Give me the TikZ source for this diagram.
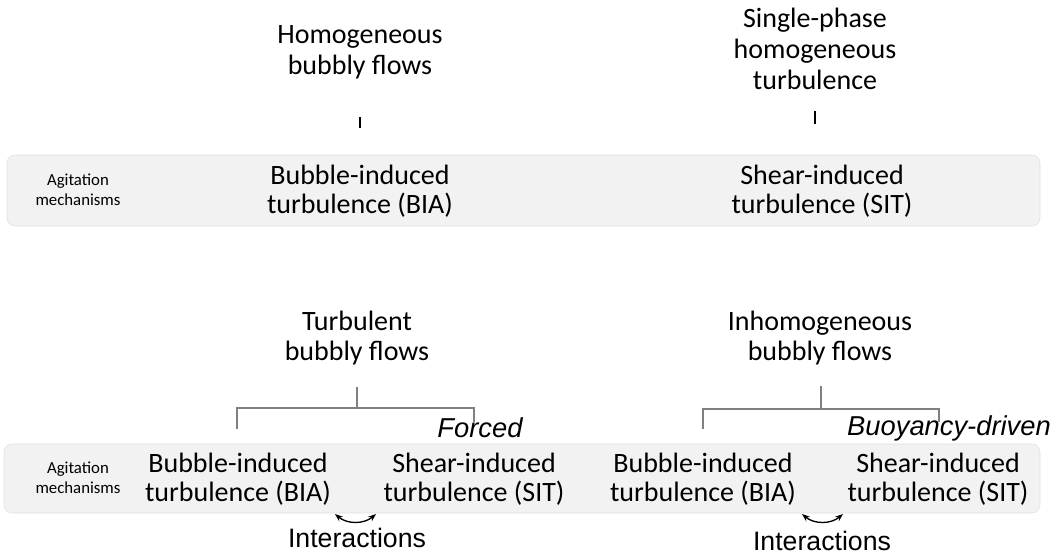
\documentclass[tikz,border=0pt]{standalone}
\usepackage{fontspec}
\setmainfont{Carlito}
\newfontfamily\arialfont{Liberation Sans}
\usetikzlibrary{arrows.meta}

\begin{document}
\begin{tikzpicture}[x=0.75pt,y=-0.75pt]
   \tikzstyle{band}=[draw=black!12, fill=black!5, rounded corners=6pt]
   \tikzstyle{mech}=[align=center, font=\fontsize{21}{22}\selectfont]
   \tikzstyle{flow}=[align=center, font=\fontsize{21}{23}\selectfont]
   \tikzstyle{side}=[align=center, font=\fontsize{12.6}{15}\selectfont]
   \tikzstyle{tag}=[font=\arialfont\itshape\fontsize{20.5}{24}\selectfont]
   \tikzstyle{note}=[font=\arialfont\fontsize{20}{24}\selectfont]
   \tikzstyle{branch}=[draw=black!50, line width=0.8pt]
   \tikzstyle{swap}=[{Stealth[length=6pt]}-{Stealth[length=6pt]}, line width=1pt, bend right=40]

\useasboundingbox (0,0) rectangle (1060,556);

% upper row
\draw[band] (7,155) rectangle (1040,226);
\node[side] (agitA) at (78,190) {Agitation\\mechanisms};
\node[flow] (homo) at (360,52) {Homogeneous\\bubbly flows};
\node[flow] (single) at (815,49) {Single-phase\\homogeneous\\turbulence};
\node[mech] (biaA) at (360,191) {Bubble-induced\\turbulence (BIA)};
\node[mech] (sitA) at (822,191) {Shear-induced\\turbulence (SIT)};
\coordinate (homoT) at (360,117);
\coordinate (homoB) at (360,128);
\coordinate (singleT) at (815,111);
\coordinate (singleB) at (815,124);
\draw[line width=0.8pt] (homoT) -- (homoB);
\draw[line width=0.8pt] (singleT) -- (singleB);

% lower row
\draw[band] (4,444) rectangle (1040,513);
\node[side] (agitB) at (78,478) {Agitation\\mechanisms};
\node[flow] (turb) at (357,338) {Turbulent\\bubbly flows};
\node[flow] (inho) at (820,338) {Inhomogeneous\\bubbly flows};
\node[mech] (biaB) at (238,479) {Bubble-induced\\turbulence (BIA)};
\node[mech] (sitB) at (474,479) {Shear-induced\\turbulence (SIT)};
\node[mech] (biaC) at (703,479) {Bubble-induced\\turbulence (BIA)};
\node[mech] (sitC) at (938,479) {Shear-induced\\turbulence (SIT)};
\node[tag] (forced) at (480,428) {Forced};
\node[tag] (buoy) at (949,428) {Buoyancy-driven};

% branches
\coordinate (turbT) at (357,387);
\coordinate (turbL) at (237,408);
\coordinate (turbR) at (474,408);
\coordinate (turbM) at (357,408);
\draw[branch] (turbT) -- (turbM);
\draw[branch] (237,429) -- (turbL) -- (turbR) -- (474,422);
\coordinate (inhoT) at (821,386);
\coordinate (inhoL) at (703,409);
\coordinate (inhoR) at (939,409);
\coordinate (inhoM) at (821,409);
\draw[branch] (inhoT) -- (inhoM);
\draw[branch] (703,429) -- (inhoL) -- (inhoR) -- (939,422);

% interactions
\coordinate (swapA1) at (335,514);
\coordinate (swapA2) at (376,514);
\coordinate (swapB1) at (802,514);
\coordinate (swapB2) at (843,514);
\draw[swap] (swapA1) to (swapA2);
\draw[swap] (swapB1) to (swapB2);
\node[note] (interA) at (357,538) {Interactions};
\node[note] (interB) at (822,541) {Interactions};

\end{tikzpicture}
\end{document}
